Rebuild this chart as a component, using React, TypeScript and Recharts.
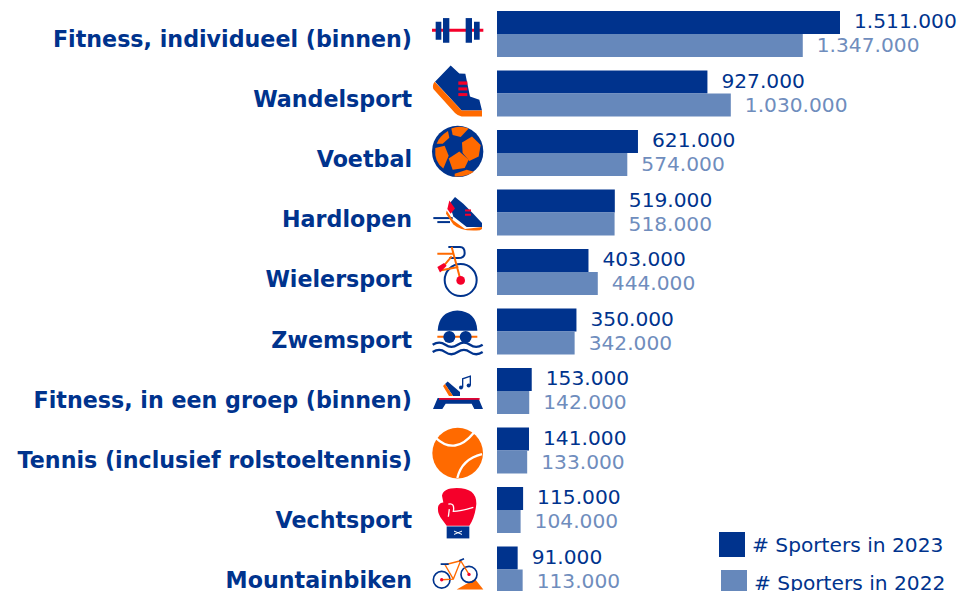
import React from "react";
import { Bar, BarChart, LabelList, Legend, XAxis, YAxis } from "recharts";

const categories = [
  "Fitness, individueel (binnen)",
  "Wandelsport",
  "Voetbal",
  "Hardlopen",
  "Wielersport",
  "Zwemsport",
  "Fitness, in een groep (binnen)",
  "Tennis (inclusief rolstoeltennis)",
  "Vechtsport",
  "Mountainbiken",
];
const sporters2023 = [1511000, 927000, 621000, 519000, 403000, 350000, 153000, 141000, 115000, 91000];
const sporters2022 = [1347000, 1030000, 574000, 518000, 444000, 342000, 142000, 133000, 104000, 113000];
const seriesNames = ["# Sporters in 2023", "# Sporters in 2022"];

const data = categories.map((name, i) => ({
  name,
  y2023: sporters2023[i],
  y2022: sporters2022[i],
}));

const DARK = "#00338d";
const LIGHT = "#6688bb";
const LIGHT_TEXT = "#6f8dbd";
const ORANGE = "#ff6a00";
const RED = "#f5002a";
const FONT = "'DejaVu Sans', Verdana, sans-serif";

// icons are traced at 3x, so each one gets scaled back down
const Barbell = () => (
  <g>
    <rect x={36} y={87} width={154} height={9} fill={RED} />
    <rect x={47} y={66} width={17} height={54} fill={DARK} />
    <rect x={69} y={55} width={19} height={74} fill={DARK} />
    <rect x={137} y={55} width={19} height={74} fill={DARK} />
    <rect x={162} y={66} width={17} height={54} fill={DARK} />
  </g>
);

const Shoe = () => (
  <g>
    <path d="M45 246 L92 197 L118 221 L136 222 L150 290 L178 300 L186 332 L125 332 Z" fill={DARK} />
    <path d="M44 246 L125 332 L186 332 L186 350 L125 350 Q115 350 105 340 L40 268 Q36 256 44 246 Z" fill={ORANGE} />
    <rect x={115} y={245} width={27} height={10} fill={RED} />
    <rect x={115} y={263} width={27} height={9} fill={RED} />
    <rect x={115} y={280} width={27} height={9} fill={RED} />
  </g>
);

const Ball = () => (
  <g>
    <circle cx={113} cy={455} r={77} fill={DARK} />
    <path d="M126 428 L156 410 L182 436 L176 470 L148 484 L128 460 Z" fill={ORANGE} />
    <path d="M86 476 L118 455 L146 480 L134 505 L98 510 Z" fill={ORANGE} />
    <path d="M46 445 L74 438 L86 468 L70 506 Q42 488 46 445 Z" fill={ORANGE} />
    <path d="M94 386 Q118 376 146 386 L122 412 L98 406 Z" fill={ORANGE} />
    <path d="M50 432 Q58 410 84 394 L88 414 L68 432 Z" fill={ORANGE} />
    <path d="M104 522 L140 510 L162 516 Q138 532 104 530 Z" fill={ORANGE} />
  </g>
);

const RunShoe = () => (
  <g>
    <rect x={40} y={82} width={58} height={6} fill={DARK} />
    <rect x={52} y={94} width={38} height={6} fill={DARK} />
    <path d="M88 42 L105 22 L130 42 L160 72 L186 100 L186 112 L140 112 L100 80 Z" fill={DARK} />
    <path d="M80 62 L100 92 L135 118 L186 112 L186 118 Q180 124 160 122 Q120 122 100 104 L78 72 Z" fill={ORANGE} />
    <path d="M82 58 L88 32 L105 56 L92 72 Z" fill={RED} />
    <rect x={135} y={59} width={18} height={6} fill={RED} />
    <rect x={135} y={72} width={18} height={6} fill={RED} />
  </g>
);

const Cycle = () => (
  <g>
    <circle cx={122} cy={271} r={48} fill="none" stroke={DARK} strokeWidth={6} />
    <path d="M85 172 H120 Q134 172 134 190 Q134 205 115 205 H88" fill="none" stroke={DARK} strokeWidth={6} />
    <path d="M52 192 H100 M95 172 L122 272 M95 200 L60 242 M60 242 L115 232" fill="none" stroke={ORANGE} strokeWidth={6} />
    <circle cx={122} cy={272} r={13} fill={RED} />
    <path d="M52 232 L72 220 L80 228 L60 248 Z" fill={RED} />
  </g>
);

const Swim = () => (
  <g>
    <path d="M53 423 Q56 365 112 362 Q170 365 172 423 Z" fill={DARK} />
    <rect x={52} y={438} width={120} height={6} fill={ORANGE} />
    <circle cx={88} cy={442} r={18} fill={DARK} />
    <circle cx={137} cy={442} r={18} fill={DARK} />
    <path d="M38 465 Q58 452 76 465 T113 465 T150 465 T188 465" fill="none" stroke={DARK} strokeWidth={7} />
    <path d="M38 487 Q58 474 76 487 T113 487 T150 487 T188 487" fill="none" stroke={DARK} strokeWidth={7} />
  </g>
);

const Step = () => (
  <g transform="translate(15 0)">
    <path d="M38 100 L160 100 L174 133 L148 133 L140 117 L62 117 L52 133 L24 133 Z" fill={DARK} />
    <rect x={42} y={100} width={122} height={5} fill={RED} />
    <path d="M60 58 L68 50 L105 82 L105 94 L84 94 Z" fill={DARK} />
    <path d="M54 64 L60 58 L84 94 L72 94 Z" fill={ORANGE} />
    <path d="M113 68 L113 42 L136 34 L136 62" fill="none" stroke={DARK} strokeWidth={4} />
    <circle cx={108} cy={68} r={6} fill={DARK} />
    <circle cx={131} cy={62} r={6} fill={DARK} />
  </g>
);

const TennisBall = () => (
  <g>
    <circle cx={113} cy={187} r={76} fill={ORANGE} />
    <path d="M48 142 Q105 195 162 125 M112 262 Q125 205 186 190" fill="none" stroke="#fff" strokeWidth={7} />
  </g>
);

const Glove = () => (
  <g>
    <path d="M66 315 Q70 292 110 292 Q170 292 169 340 Q165 380 148 405 L80 405 L65 385 Q50 365 55 345 Q60 335 70 335 Z" fill={RED} />
    <path d="M85 340 Q105 335 100 362 Q120 362 160 350 M88 355 L85 378" fill="none" stroke="#fff" strokeWidth={4} />
    <rect x={80} y={407} width={68} height={36} fill={DARK} />
    <path d="M102 421 L126 431 M102 431 L126 421" stroke="#fff" strokeWidth={3} />
  </g>
);

const MountainBike = () => (
  <g>
    <path d="M110 596 L165 565 L190 596 Z" fill={ORANGE} />
    <circle cx={65} cy={567} r={25} fill="none" stroke={DARK} strokeWidth={5} />
    <circle cx={147} cy={551} r={24} fill="none" stroke={DARK} strokeWidth={5} />
    <path d="M65 567 L100 565 L122 510 L147 551 M100 565 L75 522 L122 510" fill="none" stroke={ORANGE} strokeWidth={4} />
    <path d="M62 520 H86 M118 510 L132 504" fill="none" stroke={DARK} strokeWidth={5} />
    <circle cx={65} cy={567} r={5} fill={RED} />
    <circle cx={147} cy={551} r={5} fill={RED} />
  </g>
);

// crop origin (y) the icon was traced in, relative to the row centre
const icons: Array<{ Icon: React.FC; top: number }> = [
  { Icon: Barbell, top: -34 },
  { Icon: Shoe, top: -93.5 },
  { Icon: Ball, top: -153 },
  { Icon: RunShoe, top: 190 - 212.5 },
  { Icon: Cycle, top: 190 - 272 },
  { Icon: Swim, top: 190 - 331.5 },
  { Icon: Step, top: 365 - 391 },
  { Icon: TennisBall, top: 391 - 450.5 },
  { Icon: Glove, top: 391 - 510 },
  { Icon: MountainBike, top: 391 - 569.5 },
];

const CategoryTick = ({ y, payload, index }: any) => {
  const { Icon, top } = icons[index];
  return (
    <g>
      {/* the labels run on a slightly wider pitch than the bars */}
      <text
        x={412}
        y={y}
        dy={13 + index * 0.67}
        textAnchor="end"
        fill={DARK}
        fontFamily={FONT}
        fontWeight="bold"
        fontSize={22.2}
      >
        {payload.value}
      </text>
      <g transform={`translate(420 ${y + top}) scale(${1 / 3})`}>
        <Icon />
      </g>
    </g>
  );
};

const formatValue = (value: any) =>
  String(value).replace(/\B(?=(\d{3})+(?!\d))/g, ".");

const LegendBox = () => (
  <div style={{ fontFamily: FONT, fontSize: 20.2, color: DARK }}>
    {seriesNames.map((name, i) => (
      <div
        key={name}
        style={{
          position: "absolute",
          left: i === 0 ? 719 : 721,
          top: i === 0 ? 532 : 570,
          display: "flex",
          alignItems: "center",
          whiteSpace: "nowrap",
        }}
      >
        <div
          style={{
            width: 26,
            height: 25,
            marginRight: 7,
            background: i === 0 ? DARK : LIGHT,
          }}
        />
        {name}
      </div>
    ))}
  </div>
);

export default function App() {
  return (
    <div
      style={{
        position: "fixed",
        left: 0,
        top: 0,
        width: 959,
        height: 591,
        overflow: "hidden",
        background: "#fff",
      }}
    >
      <BarChart
        width={959}
        height={599}
        data={data}
        layout="vertical"
        barCategoryGap={6.5}
        barGap={0}
        margin={{ top: 4, right: 0, bottom: 0, left: 0 }}
      >
        <XAxis type="number" hide domain={[0, 1511000 * (462 / 343)]} />
        <YAxis
          type="category"
          dataKey="name"
          width={497}
          interval={0}
          axisLine={false}
          tickLine={false}
          tick={<CategoryTick />}
        />
        <Legend
          content={<LegendBox />}
          wrapperStyle={{ left: 0, top: 0, width: 0, height: 0 }}
        />
        <Bar dataKey="y2023" fill={DARK} barSize={23} isAnimationActive={false}>
          <LabelList
            dataKey="y2023"
            position="right"
            offset={14}
            dy={-1.5}
            formatter={formatValue}
            fill={DARK}
            fontFamily={FONT}
            fontSize={20.2}
          />
        </Bar>
        <Bar dataKey="y2022" fill={LIGHT} barSize={23} isAnimationActive={false}>
          <LabelList
            dataKey="y2022"
            position="right"
            offset={14}
            dy={-0.5}
            formatter={formatValue}
            fill={LIGHT_TEXT}
            fontFamily={FONT}
            fontSize={20.2}
          />
        </Bar>
      </BarChart>
    </div>
  );
}
